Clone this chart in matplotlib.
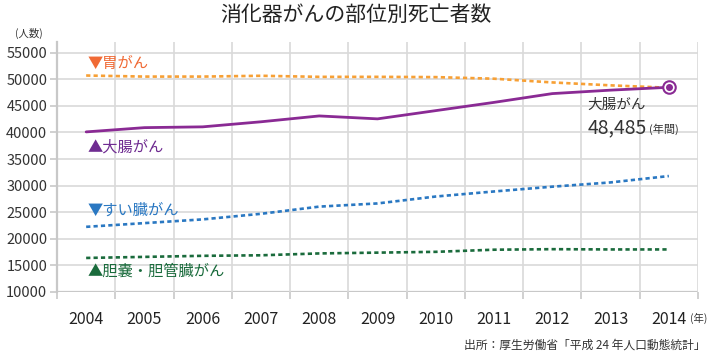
import matplotlib
matplotlib.use('Agg')
import matplotlib.pyplot as plt

plt.rcParams['font.family'] = ['Noto Sans CJK JP', 'DejaVu Sans']

# Data
years = ['2004', '2005', '2006', '2007', '2008', '2009', '2010', '2011', '2012', '2013', '2014']
stomach = [50700, 50500, 50500, 50650, 50450, 50450, 50400, 50100, 49400, 48850, 48400]
colon = [40100, 40900, 41050, 42000, 43100, 42550, 44100, 45650, 47300, 47950, 48485]
pancreas = [22250, 22950, 23650, 24700, 26050, 26650, 27950, 28900, 29800, 30600, 31800]
gallbladder = [16400, 16600, 16800, 16900, 17250, 17400, 17550, 17950, 18050, 18000, 18000]

c_stomach = '#f7a035'
c_stomach_lbl = '#f06a35'
c_colon = '#8a2a94'
c_colon_lbl = '#6f2c91'
c_pan = '#2a78c2'
c_gb = '#1a6b3c'
grid_c = '#d9d9d9'

fig = plt.figure(figsize=(7.11, 3.56), dpi=100)
ax = fig.add_axes([0.0802, 0.1798, 0.9015, 0.7022])

x = list(range(len(years)))

dash = (1.6, 1.2)
ax.plot(x, stomach, color=c_stomach, lw=1.9, dashes=dash, zorder=3)
ax.plot(x, pancreas, color=c_pan, lw=1.9, dashes=dash, zorder=3)
ax.plot(x, gallbladder, color=c_gb, lw=1.9, dashes=dash, zorder=3)
ax.plot(x, colon, color=c_colon, lw=2.0, zorder=4, solid_capstyle='round')
ax.plot(x[-1], colon[-1], 'o', ms=9, mfc='white', mec=c_colon, mew=1.5, zorder=5)
ax.plot(x[-1], colon[-1], 'o', ms=4, color=c_colon, zorder=6)

ax.set_xlim(-0.5, len(years) - 0.5)
ax.set_ylim(10000, 57000)

# grid
for yv in range(10000, 55001, 5000):
    ax.axhline(yv, color=grid_c if yv > 10000 else '#c8c8c8', lw=1.2 if yv > 10000 else 1.6, zorder=1)
ax.set_xticks([i - 0.5 for i in range(len(years) + 1)], minor=True)
ax.grid(True, which='minor', axis='x', color=grid_c, lw=1.2, zorder=1)
ax.tick_params(axis='x', which='minor', length=5, color='#c8c8c8', width=1.2)
ax.set_xticks(x)
ax.set_xticklabels(years, fontsize=11.5, color='#222222')
ax.tick_params(axis='x', which='major', length=0, pad=14)

ax.set_yticks(range(10000, 55001, 5000))
ax.set_yticklabels([str(v) for v in range(10000, 55001, 5000)], fontsize=10.5, color='#333333')
ax.tick_params(axis='y', length=5, color='#c8c8c8', width=1.2, pad=2)

for s in ['top', 'right', 'bottom']:
    ax.spines[s].set_visible(False)
ax.spines['left'].set_color('#c8c8c8')
ax.spines['left'].set_linewidth(1.6)

# series labels
ax.text(0.02, 53000, '▼胃がん', color=c_stomach_lbl, fontsize=11, va='center')
ax.text(0.02, 37300, '▲大腸がん', color=c_colon_lbl, fontsize=11, va='center')
ax.text(0.02, 25300, '▼すい臓がん', color=c_pan, fontsize=11, va='center')
ax.text(0.02, 13900, '▲胆嚢・胆管臓がん', color=c_gb, fontsize=11, va='center')

# annotation
ax.text(8.6, 45100, '大腸がん', color='#333333', fontsize=10.5, va='center')
ax.text(8.6, 40800, '48,485', color='#333333', fontsize=14, va='center')
ax.text(9.66, 40600, '(年間)', color='#333333', fontsize=8, va='center')

fig.text(0.5, 0.957, '消化器がんの部位別死亡者数', ha='center', va='center', fontsize=15, color='#222222')
fig.text(0.04, 0.905, '(人数)', ha='center', va='center', fontsize=7.5, color='#333333')
fig.text(0.971, 0.107, '(年)', ha='left', va='center', fontsize=7.5, color='#333333')
fig.text(0.992, 0.03, '出所：厚生労働省「平成 24 年人口動態統計」', ha='right', va='center', fontsize=8.5, color='#333333')

fig.savefig('out.png', dpi=100)
